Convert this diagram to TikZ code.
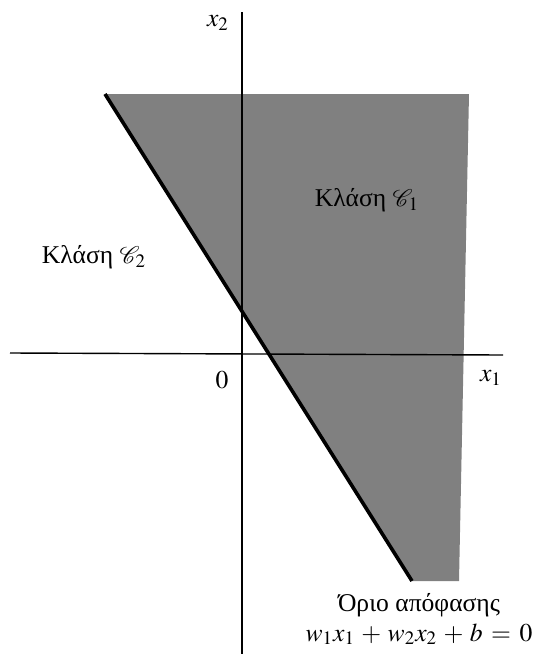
\documentclass[tikz,border=0pt]{standalone}
\usepackage{amsmath}
\usepackage{mathptmx}
\usepackage{mathrsfs}
\usepackage[no-math]{fontspec}
\setmainfont{Liberation Serif}

\begin{document}
\begin{tikzpicture}[x=0.5pt,y=-0.5pt,font=\fontsize{12.8}{15}\selectfont]
\useasboundingbox (0,0) rectangle (545,654);

% Shaded class region
\fill[black!50] (105,94) -- (469,94) -- (459,581) -- (412,581) -- cycle;

% Axes
\draw[line width=0.7pt] (10,353) -- (503,355);
\draw[line width=0.7pt] (242,12) -- (242,654);
\node (xone) at (491,378) {$x_1$};
\node (xtwo) at (218,23) {$x_2$};
\node (orig) at (222,380) {$0$};

% Decision boundary
\draw[line width=1.8pt] (105,94) -- (412,581);

% Class labels
\node (cone) at (367,200) {Κλάση $\mathscr{C}_1$};
\node (ctwo) at (94,257) {Κλάση $\mathscr{C}_2$};
\node[align=center] (bound) at (419,619) {Όριο απόφασης\\ $w_1x_1 \,+\, w_2x_2 \,+\, b \,=\, 0$};

\end{tikzpicture}
\end{document}
